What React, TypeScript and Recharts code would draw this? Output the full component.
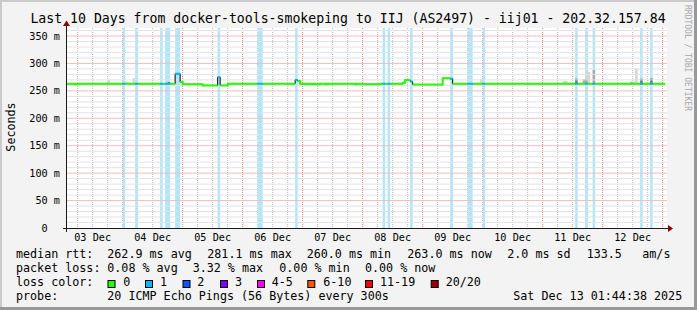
import React from 'react';
import {
  ComposedChart,
  Line,
  Area,
  XAxis,
  YAxis,
  ReferenceArea,
  CartesianGrid,
} from 'recharts';

const FONT = '"DejaVu Sans Mono", "Liberation Mono", monospace';

// time axis: hours since 03 Dec 00:00, last 10 days ending Sat Dec 13 01:44:38
const timeDomain: [number, number] = [1.74, 241.74];
const valueDomain: [number, number] = [0, 364.6];

const dayTicks = [12, 36, 60, 84, 108, 132, 156, 180, 204, 228];
const dayLabels = ['03 Dec', '04 Dec', '05 Dec', '06 Dec', '07 Dec', '08 Dec', '09 Dec', '10 Dec', '11 Dec', '12 Dec'];
const valueTicks = [0, 50, 100, 150, 200, 250, 300, 350];
const valueTickLabels = ['0  ', '50 m', '100 m', '150 m', '200 m', '250 m', '300 m', '350 m'];
const minorValueGrid = [10, 20, 30, 40, 60, 70, 80, 90, 110, 120, 130, 140, 160, 170, 180, 190, 210, 220, 230, 240, 260, 270, 280, 290, 310, 320, 330, 340, 360];
const majorValueGrid = [50, 100, 150, 200, 250, 300, 350];
const minorTimeGrid = [6, 12, 18, 30, 36, 42, 54, 60, 66, 78, 84, 90, 102, 108, 114, 126, 132, 138, 150, 156, 162, 174, 180, 186, 198, 204, 210, 222, 228, 234];
const majorTimeGrid = [24, 48, 72, 96, 120, 144, 168, 192, 216, 240];

// median rtt (ms) per hourly bin: [firstBin, lastBin, value]
const medianRuns: [number, number, number][] = [
  [1, 4, 263], [5, 5, 262], [6, 44, 263], [45, 46, 281.1], [47, 47, 266],
  [48, 55, 262], [56, 61, 260], [62, 62, 275], [63, 65, 260], [66, 92, 263],
  [93, 93, 270], [94, 94, 268], [95, 96, 263], [97, 97, 262], [98, 98, 263],
  [99, 99, 262], [100, 100, 263], [101, 102, 262], [103, 104, 263], [105, 105, 262],
  [106, 116, 263], [117, 117, 262], [118, 119, 263], [120, 126, 262], [127, 135, 263],
  [136, 136, 265], [137, 138, 270], [139, 139, 267], [140, 151, 261.5], [152, 154, 273],
  [155, 155, 272], [156, 240, 263],
];

// hourly bins with packet loss (1 of 20)
const lossBins = [24, 29, 39, 41, 42, 45, 46, 62, 78, 79, 93, 128, 130, 139, 155, 162, 163, 168, 205, 209, 212, 231, 235];

// smoke tops (ms) per bin
const smokeLight: [number, number][] = [
  [18, 270], [24, 267], [25, 267], [28, 273], [167, 272], [200, 268], [201, 268],
  [209, 285], [210, 285], [227, 267], [228, 267], [229, 291],
];
const smokeMid: [number, number][] = [[208, 271], [209, 271], [212, 288], [227, 266]];
const smokeDark: [number, number][] = [[42, 266], [205, 272], [231, 272], [235, 272.5]];

const lossLegend = [
  { label: '0', color: '#26ff00' },
  { label: '1', color: '#00b8ff' },
  { label: '2', color: '#0059ff' },
  { label: '3', color: '#7e00ff' },
  { label: '4-5', color: '#ff00f0' },
  { label: '6-10', color: '#ff5500' },
  { label: '11-19', color: '#ff0000' },
  { label: '20/20', color: '#a10000' },
];

const medianAt = (k: number): number | null => {
  for (const [a, b, v] of medianRuns) if (k >= a && k <= b) return v;
  return null;
};
const lossSet = new Set(lossBins);
const mL = new Map(smokeLight);
const mM = new Map(smokeMid);
const mD = new Map(smokeDark);

const rows: any[] = [];
for (let k = 1; k <= 240; k++) {
  const m = medianAt(k);
  const lost = lossSet.has(k);
  const r = {
    med: m,
    green: lost ? null : m,
    blue: lost ? m : null,
    sL: mL.has(k) ? [m, mL.get(k)] : null,
    sM: mM.has(k) ? [m, mM.get(k)] : null,
    sD: mD.has(k) ? [m, mD.get(k)] : null,
  };
  rows.push({ t: k, ...r });
  rows.push({ t: k + 1, ...r });
}

const lossRuns: [number, number][] = [];
for (const k of lossBins) {
  const last = lossRuns[lossRuns.length - 1];
  if (last && last[1] === k) last[1] = k + 1;
  else lossRuns.push([k, k + 1]);
}

// horizontal grid lines as two-point series spanning the time domain
const hLine = (v: number) => [
  { t: timeDomain[0], g: v },
  { t: timeDomain[1], g: v },
];

const legendRows = [
  { y: 257.5, parts: [[16, 'median rtt:'], [107.3, '262.9 ms avg'], [207.3, '281.1 ms max'], [306.7, '260.0 ms min'], [407.3, '263.0 ms now'], [507.3, '2.0 ms sd'], [586.7, '133.5'], [642.3, 'am/s']] },
  { y: 271.8, parts: [[16, 'packet loss:'], [107.3, '0.08 % avg'], [192.7, '3.32 % max'], [279.3, '0.00 % min'], [365, '0.00 % now']] },
  { y: 286, parts: [[16, 'loss color:']] },
  { y: 300.2, parts: [[16, 'probe:'], [107.3, '20 ICMP Echo Pings (56 Bytes) every 300s'], [513.3, 'Sat Dec 13 01:44:38 2025']] },
];
const swatchX = [107.5, 145, 182.5, 220, 257, 307.3, 365, 430.7];
const swatchLabelX = [123.3, 160, 197.3, 235, 271.7, 323.3, 380, 445.7];

const scaleOf = (axis: any) => {
  const s = axis && axis.scale;
  if (typeof s === 'function') return s;
  if (s && typeof s.map === 'function') return (v: number) => s.map(v);
  return null;
};
const gridGen = (values: number[], key: 'xAxis' | 'yAxis') => (p: any) => {
  const s = scaleOf(p[key]);
  return s ? values.map((v) => s(v)) : [];
};

const XTick = (props: any) => (
  <text x={props.x} y={props.y} dy="0.71em" textAnchor="middle" fontSize={10.2} fontFamily={FONT} fill="#000">
    {dayLabels[dayTicks.indexOf(props.payload.value)]}
  </text>
);
const YTick = (props: any) => (
  <text x={props.x} y={props.y} dy="0.355em" textAnchor="end" fontSize={10.2} fontFamily={FONT} fill="#000" style={{ whiteSpace: 'pre' }}>
    {valueTickLabels[valueTicks.indexOf(props.payload.value)]}
  </text>
);

export default function App() {
  const W = 697;
  const H = 310;
  return (
    <div style={{ position: 'absolute', left: 0, top: 0, width: W, height: H, background: '#f3f3f3', overflow: 'hidden' }}>
      {/* plot canvas (white) */}
      <div style={{ position: 'absolute', left: 67, top: 28, width: 600, height: 200, background: '#ffffff' }} />
      <ComposedChart
        width={W}
        height={H}
        data={rows}
        margin={{ top: 28, right: 30, bottom: 81, left: 66 }}
        style={{ position: 'absolute', left: 0, top: 0 }}
      >
        <CartesianGrid
          stroke="#bababa"
          strokeDasharray="1 1"
          horizontal={false}
          verticalCoordinatesGenerator={gridGen(minorTimeGrid, 'xAxis')}
        />
        <CartesianGrid
          stroke="#f07c7c"
          strokeDasharray="1 1"
          horizontal={false}
          verticalCoordinatesGenerator={gridGen(majorTimeGrid, 'xAxis')}
        />
        <XAxis
          type="number"
          dataKey="t"
          domain={timeDomain}
          allowDataOverflow
          ticks={dayTicks}
          interval={0}
          axisLine={false}
          tickLine={false}
          tickSize={0}
          tickMargin={5.6}
          height={1}
          tick={<XTick />}
        />
        <YAxis
          type="number"
          domain={valueDomain}
          allowDataOverflow
          ticks={valueTicks}
          interval={0}
          axisLine={false}
          tickLine={false}
          tickSize={0}
          tickMargin={7}
          width={1}
          tick={<YTick />}
        />
        {lossRuns.map(([a, b]) => (
          <ReferenceArea key={'l' + a} x1={a} x2={b} y1={0} y2={valueDomain[1]} fill="#aee6fa" fillOpacity={1} stroke="none" zIndex={-50} />
        ))}
        {minorValueGrid.map((v) => (
          <Line key={'gy' + v} data={hLine(v)} dataKey="g" type="linear" stroke="#e2e2e2" strokeWidth={1} dot={false} activeDot={false} isAnimationActive={false} />
        ))}
        {majorValueGrid.map((v) => (
          <Line key={'Gy' + v} data={hLine(v)} dataKey="g" type="linear" stroke="#f5bcbc" strokeWidth={1} dot={false} activeDot={false} isAnimationActive={false} />
        ))}
        <Area dataKey="sL" type="linear" stroke="none" fill="#d4d4d4" fillOpacity={1} isAnimationActive={false} dot={false} activeDot={false} />
        <Area dataKey="sM" type="linear" stroke="none" fill="#a8a8a8" fillOpacity={1} isAnimationActive={false} dot={false} activeDot={false} />
        <Area dataKey="sD" type="linear" stroke="none" fill="#767676" fillOpacity={1} isAnimationActive={false} dot={false} activeDot={false} />
        <Line dataKey="med" type="linear" stroke="#000000" strokeWidth={1} dot={false} activeDot={false} isAnimationActive={false} />
        <Line dataKey="green" type="linear" stroke="#26ff00" strokeWidth={2} dot={false} activeDot={false} isAnimationActive={false} />
        <Line dataKey="blue" type="linear" stroke="#00b8ff" strokeWidth={2} dot={false} activeDot={false} isAnimationActive={false} />
      </ComposedChart>
      <svg width={W} height={H} style={{ position: 'absolute', left: 0, top: 0, pointerEvents: 'none' }} fontFamily={FONT}>
        {/* frame */}
        <rect x={0} y={0} width={W} height={2} fill="#cbcbcb" />
        <rect x={0} y={0} width={2} height={H} fill="#cbcbcb" />
        <rect x={0} y={H - 3} width={W} height={3} fill="#999999" />
        <rect x={W - 3} y={0} width={3} height={H} fill="#999999" />
        {/* axes */}
        <line x1={63} y1={228.5} x2={669} y2={228.5} stroke="#1a1a1a" strokeWidth={1} />
        <line x1={66.5} y1={232} x2={66.5} y2={24} stroke="#1a1a1a" strokeWidth={1} />
        <polygon points="668,225 673,228.5 668,232" fill="#8b0000" />
        <polygon points="63,26 66.5,20.5 70,26" fill="#8b0000" />
        {/* title */}
        <text x={348} y={23.3} textAnchor="middle" fontSize={13.2} fill="#000">
          Last 10 Days from docker-tools-smokeping to IIJ (AS2497) - iij01 - 202.32.157.84
        </text>
        {/* unit */}
        <text transform="translate(14.5,127) rotate(-90)" textAnchor="middle" fontSize={11.7} fill="#000">
          Seconds
        </text>
        {/* watermark */}
        <text transform="translate(685,5) rotate(90)" fontSize={8} fill="#a8a8a8">
          RRDTOOL / TOBI OETIKER
        </text>
        {/* legend */}
        {legendRows.map((row) =>
          row.parts.map(([x, s]) => (
            <text key={row.y + '-' + x} x={x as number} y={row.y} fontSize={11.7} fill="#000" style={{ whiteSpace: 'pre' }}>
              {s}
            </text>
          ))
        )}
        {lossLegend.map((l, i) => (
          <g key={l.label}>
            <rect x={swatchX[i] + 0.5} y={280.5} width={7} height={7} fill={l.color} stroke="#000" strokeWidth={1} />
            <text x={swatchLabelX[i]} y={286} fontSize={11.7} fill="#000">
              {l.label}
            </text>
          </g>
        ))}
      </svg>
    </div>
  );
}
